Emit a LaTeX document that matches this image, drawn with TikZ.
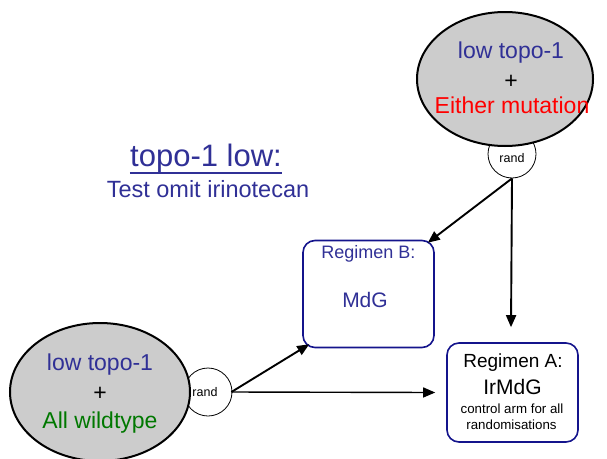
\documentclass[tikz,border=0pt]{standalone}
\usepackage{fontspec}
\setmainfont{Liberation Sans}
\usetikzlibrary{arrows.meta,calc,shapes.geometric}
\definecolor{txtblue}{RGB}{48,48,150}
\definecolor{boxblue}{RGB}{20,20,140}
\definecolor{armgreen}{RGB}{0,120,0}
\definecolor{cellgray}{RGB}{204,204,204}
\newcommand{\fs}[1]{\fontsize{#1}{#1}\selectfont}
\tikzset{
  group/.style={ellipse, draw=black, line width=2pt, fill=cellgray, inner sep=0pt},
  randbox/.style={circle, draw=black, line width=0.8pt, fill=white, inner sep=0pt, minimum size=48pt},
  randtext/.style={inner sep=0pt, font=\fs{12.5}},
  regimen/.style={draw=boxblue, line width=1.6pt, rounded corners=12pt, fill=white, minimum width=131pt, inner sep=0pt},
  arr/.style={draw=black, line width=1.9pt, -{Triangle[length=12pt,width=10pt]}},
  arrthin/.style={draw=black, line width=1.4pt, -{Triangle[length=12pt,width=10pt]}},
  lbl/.style={inner sep=0pt, anchor=base},
}
\begin{document}
\begin{tikzpicture}[x=1pt,y=-1pt]
\useasboundingbox (0,0) rectangle (607,458);

% randomisation points (drawn first, partly hidden by the groups)
\node[randbox] (r1) at (512,154) {};
\node[randbox] (r2) at (208,392) {};
\node[randtext] (r1t) at (512,158) {rand};
\node[randtext] (r2t) at (205,392) {rand};

% patient groups
\node[group, minimum width=176pt, minimum height=134pt] (g1) at (505,79) {};
\node[lbl, font=\fs{23}, text=txtblue] (g1a) at (511,58) {low topo-1};
\node[lbl, font=\fs{23}] (g1b) at (511,88) {+};
\node[lbl, font=\fs{23}, text=red] (g1c) at (512,113) {Either mutation};

\node[group, minimum width=180pt, minimum height=138pt] (g2) at (100,392) {};
\node[lbl, font=\fs{23}, text=txtblue] (g2a) at (100,370) {low topo-1};
\node[lbl, font=\fs{23}] (g2b) at (100,400) {+};
\node[lbl, font=\fs{23}, text=armgreen] (g2c) at (100,428) {All wildtype};

% heading
\node[lbl, font=\fs{31}, text=txtblue] (h1) at (206,166) {topo-1 low:};
\draw[txtblue, line width=1.6pt] ($(h1.base west)+(0,7)$) -- ($(h1.base east)+(0,7)$);
\node[lbl, font=\fs{23.5}, text=txtblue] (h2) at (208,197) {Test omit irinotecan};

% regimens
\node[regimen, minimum height=107pt] (rb) at (368.5,294) {};
\node[lbl, font=\fs{18}, text=txtblue] (rb1) at (368.5,258) {Regimen B:};
\node[lbl, font=\fs{21}, text=txtblue] (rb2) at (365,307) {MdG};

\node[regimen, minimum height=99pt] (ra) at (512.5,392.5) {};
\node[lbl, font=\fs{19}] (ra1) at (513,367) {Regimen A:};
\node[lbl, font=\fs{21}] (ra2) at (512.5,394) {IrMdG};
\node[lbl, font=\fs{13.3}] (ra3) at (512,413) {control arm for all};
\node[lbl, font=\fs{13.3}] (ra4) at (511.5,429) {randomisations};

% allocations
\coordinate (raTop) at ($(ra.north)+(-1.5,-15)$);
\draw[arr] (r1.south) -- ($(rb.north east)+(-7,3)$);
\draw[arr] (r1.south) -- (raTop);
\draw[arr] ($(r2.east)+(-1,0)$) -- ($(rb.south west)+(7,-4)$);
\draw[arrthin] ($(r2.east)+(-1,0)$) -- ($(ra.west)+(-11,0)$);
\end{tikzpicture}
\end{document}
